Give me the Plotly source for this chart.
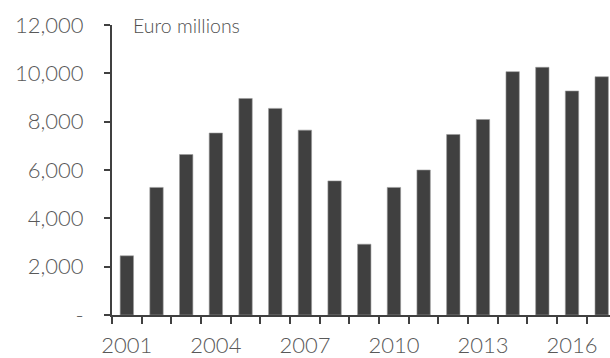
import plotly.graph_objects as go

years = list(range(2001, 2018))
values = [2450, 5280, 6640, 7530, 8960, 8550, 7650, 5550, 2930, 5280, 6000, 7470, 8090, 10070, 10250, 9270, 9860]
xtick_labels = ["2001", "2004", "2007", "2010", "2013", "2016"]
ytick_vals = [0, 2000, 4000, 6000, 8000, 10000, 12000]
ytick_text = ["-", "2,000", "4,000", "6,000", "8,000", "10,000", "12,000"]
unit_label = "Euro millions"

axis_color = "#404040"
text_color = "#595959"
font_family = "Lato, Open Sans, sans-serif"

fig = go.Figure(go.Bar(
    x=years, y=values,
    marker=dict(color="#404040", line=dict(color="#9a9a9a", width=0.6)),
    width=0.45,
))

fig.update_layout(
    width=610, height=358,
    margin=dict(l=112, r=0, t=25, b=40),
    paper_bgcolor="white", plot_bgcolor="white",
    showlegend=False,
    font=dict(family=font_family, color=text_color, size=22, weight=300),
    xaxis=dict(
        range=[2000.5, 2017.28],
        tickmode="array",
        tickvals=[int(t) for t in xtick_labels],
        ticktext=xtick_labels,
        ticks="outside", ticklen=0, tickcolor="white",
        showline=True, linecolor=axis_color, linewidth=2,
        showgrid=False, zeroline=False,
        tickfont=dict(size=22, color=text_color, family=font_family, weight=300),
        ticklabelstandoff=10,
        minor=dict(ticks="outside", tickmode="linear", tick0=2000.5, dtick=1,
                   ticklen=7, tickwidth=2, tickcolor=axis_color, showgrid=False),
    ),
    yaxis=dict(
        range=[0, 12000],
        tickmode="array", tickvals=ytick_vals, ticktext=ytick_text,
        ticks="outside", ticklen=6, tickwidth=2, tickcolor=axis_color,
        showline=True, linecolor=axis_color, linewidth=2,
        showgrid=False, zeroline=False,
        tickfont=dict(size=22, color=text_color, family=font_family, weight=300),
        ticklabelstandoff=16,
    ),
    annotations=[dict(
        text=unit_label, xref="paper", yref="paper", x=0.038, y=1.0,
        xanchor="left", yanchor="middle", showarrow=False,
        font=dict(size=19.5, color="#505050", family=font_family, weight=300),
    )],
)

fig.write_html("out.html")
